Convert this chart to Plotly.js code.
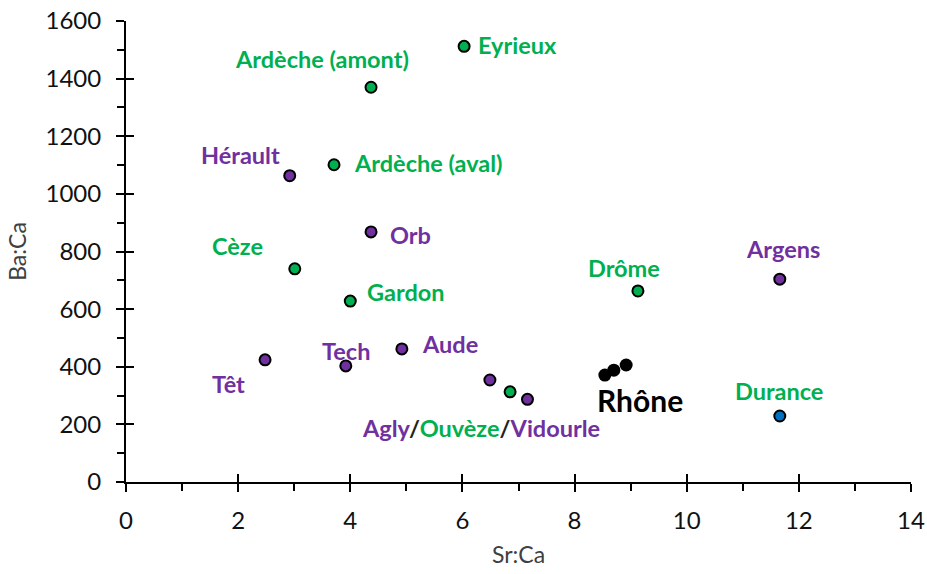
<!DOCTYPE html>
<html><head><meta charset="utf-8">
<script src="https://cdn.plot.ly/plotly-3.0.1.min.js"></script>
<style>body{margin:0;background:#fff}#c{width:927px;height:574px}</style>
</head><body><div id="c"></div>
<script>
const GREEN = '#00B050', PURPLE = '#7030A0', BLUE = '#0070C0', BLACK = '#000000';

const greenNames = ['Eyrieux','Ardèche (amont)','Ardèche (aval)','Cèze','Gardon','Drôme','Ouvèze'];
const greenSr = [6.03, 4.37, 3.71, 3.01, 4.00, 9.13, 6.85];
const greenBa = [1512, 1370, 1101, 740, 628, 663, 313];

const purpleNames = ['Hérault','Orb','Argens','Têt','Tech','Aude','Agly','Vidourle'];
const purpleSr = [2.92, 4.37, 11.66, 2.48, 3.92, 4.92, 6.49, 7.16];
const purpleBa = [1063, 868, 704, 424, 403, 462, 354, 287];

const blueNames = ['Durance'];
const blueSr = [11.66];
const blueBa = [229];

const rhoneSr = [8.54, 8.70, 8.92];
const rhoneBa = [371, 388, 406];

// label texts and anchor positions (data coords)
const labelTexts = ['Ardèche (amont)','Eyrieux','Hérault','Ardèche (aval)','Orb','Cèze','Gardon','Drôme','Argens','Durance','Têt','Tech','Aude'];
const labelColors = [GREEN, GREEN, PURPLE, GREEN, PURPLE, GREEN, GREEN, GREEN, PURPLE, GREEN, PURPLE, PURPLE, PURPLE];
const labelX = [3.50, 6.99, 2.05, 5.38, 5.08, 1.98, 5.00, 8.88, 11.72, 11.64, 1.82, 3.92, 5.78];
const labelY = [1467, 1515, 1136, 1108, 858, 820, 660, 743, 809, 315, 340, 455, 479];

const xTicks = [0,2,4,6,8,10,12,14];
const yTicks = [0,200,400,600,800,1000,1200,1400,1600];

const FONT = 'Lato, Calibri, sans-serif';

function mk(x, y, color, lineW, size) {
  return {type:'scatter', mode:'markers', x:x, y:y, cliponaxis:false, hoverinfo:'skip',
    marker:{size:size, color:color, line:{color:'#000', width:lineW}}, showlegend:false};
}
const data = [
  mk(greenSr, greenBa, GREEN, 2, 11),
  mk(purpleSr, purpleBa, PURPLE, 2, 11),
  mk(blueSr, blueBa, BLUE, 2, 11),
  mk(rhoneSr, rhoneBa, BLACK, 0, 13)
];

const annotations = labelTexts.map((t,i)=>({x:labelX[i], y:labelY[i], text:t, showarrow:false,
  font:{family:FONT, size:23.5, color:labelColors[i], weight:'bold'}}));
annotations.push({x:6.33, y:187, showarrow:false,
  text:'<span style="color:'+PURPLE+'">Agly</span>/<span style="color:'+GREEN+'">Ouvèze</span>/<span style="color:'+PURPLE+'">Vidourle</span>',
  font:{family:FONT, size:23.5, color:'#222', weight:'bold'}});
annotations.push({x:9.17, y:284, text:'Rhône', showarrow:false,
  font:{family:FONT, size:30, color:'#000', weight:'bold'}});

const axCommon = {showgrid:false, zeroline:false, showline:true, linecolor:'#000', linewidth:2,
  ticks:'outside', tickcolor:'#000', tickwidth:2, ticklen:8,
  tickfont:{family:FONT, size:24, color:'#111'}};

const layout = {
  width:927, height:574, paper_bgcolor:'#fff', plot_bgcolor:'#fff',
  margin:{l:126, r:16, t:21, b:92},
  xaxis:Object.assign({}, axCommon, {range:[0,14], tickvals:xTicks, anchor:'y', ticklabelstandoff:8,
    minor:{dtick:1, ticks:'outside', ticklen:7, tickcolor:'#000', tickwidth:2},
    title:{text:'Sr:Ca', font:{family:FONT, size:23, color:'#404040'}, standoff:14}}),
  yaxis:Object.assign({}, axCommon, {range:[0,1600], tickvals:yTicks, anchor:'x', ticklabelstandoff:10,
    minor:{dtick:100, ticks:'outside', ticklen:7, tickcolor:'#000', tickwidth:2},
    title:{text:'Ba:Ca', font:{family:FONT, size:23, color:'#404040'}, standoff:12}}),
  xaxis2:{overlaying:'x', range:[0,14], tickvals:xTicks, showticklabels:false, ticks:'inside', ticklen:8, tickwidth:2, tickcolor:'#000', showgrid:false, zeroline:false, showline:false, anchor:'y2'},
  yaxis2:{overlaying:'y', range:[0,1600], tickvals:yTicks, showticklabels:false, ticks:'inside', ticklen:8, tickwidth:2, tickcolor:'#000', showgrid:false, zeroline:false, showline:false, anchor:'x2'},
  annotations:annotations
};
// dummy trace to activate the overlay axes
data.unshift({type:'scatter', x:[], y:[], xaxis:'x2', yaxis:'y2', showlegend:false, hoverinfo:'skip'});
Plotly.newPlot('c', data, layout, {staticPlot:true});
</script></body></html>
